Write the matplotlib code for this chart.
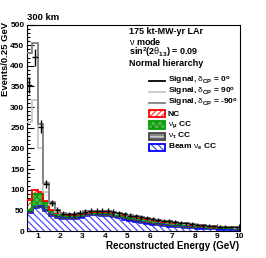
import numpy as np
import matplotlib
matplotlib.use("Agg")
import matplotlib.pyplot as plt
from matplotlib.lines import Line2D
from matplotlib.patches import Rectangle
from matplotlib.ticker import MultipleLocator

plt.rcParams['font.family'] = ['Liberation Sans', 'DejaVu Sans']
plt.rcParams['mathtext.fontset'] = 'custom'
plt.rcParams['mathtext.rm'] = 'Liberation Sans:bold'
plt.rcParams['mathtext.it'] = 'Liberation Sans:bold'
plt.rcParams['mathtext.bf'] = 'Liberation Sans:bold'
plt.rcParams['mathtext.sf'] = 'Liberation Sans:weight=normal'
plt.rcParams['hatch.linewidth'] = 0.8

# ---------------- data (events per 0.25 GeV bin, 0.5 - 10 GeV) ----------------
bin_low = 0.5
bin_width = 0.25
n_bins = 38

beam_nue_cc = [45, 57, 61, 51, 39, 34, 32, 31, 32, 35,
               38, 40, 40, 39, 38, 36, 33, 30, 27, 25,
               22, 20, 18, 16, 14, 13, 12, 11, 10, 9,
               8, 8, 7, 7, 6, 6, 6, 5]
nutau_cc = [0, 0, 0, 0, 0, 0, 0.1, 0.2, 0.3, 0.4,
            0.5, 0.6, 0.7, 0.8, 0.8, 0.9, 0.9, 0.9, 0.9, 0.9,
            0.9, 0.9, 0.8, 0.8, 0.8, 0.7, 0.7, 0.7, 0.6, 0.6,
            0.6, 0.5, 0.5, 0.5, 0.5, 0.4, 0.4, 0.4]
numu_cc = [5, 32, 28, 18, 9, 7, 6, 5, 5, 4,
           4, 4, 4, 4, 5, 5, 5, 6, 6, 6,
           7, 7, 7, 7, 7, 7, 6, 6, 5, 5,
           4, 3.5, 3, 2.5, 2, 2, 1.5, 1.5]
nc = [25, 10, 6, 2.5, 2, 2, 2, 2, 2, 2,
      2, 2, 2, 2, 2, 2, 1.5, 1.5, 1.5, 1.5,
      1.5, 1.5, 1, 1, 1, 1, 1, 1, 1, 1,
      1, 1, 0.8, 0.8, 0.8, 0.8, 0.8, 0.8]

signal_dcp0 = [279, 322, 158, 42.5, 18, 7,
               2, 2.3, 2.2, 2.6, 2.5, 2.4, 2.3, 2.2, 2.2, 2.1,
               2.1, 2.1, 2.1, 2.1, 2.1, 2.1, 2, 2, 1.8, 1.8,
               1.8, 1.6, 1.6, 1.5, 1.4, 1.3, 1.2, 1.2, 1.1, 1.0,
               0.9, 0.8]
signal_dcp90 = [190, 219, 106, 23.5, 12, 4,
                1.7, 2.0, 1.9, 2.3, 2.2, 2.1, 2.0, 2.0, 2.0, 1.9,
                1.9, 1.9, 1.9, 1.9, 1.9, 1.9, 1.9, 1.9, 1.7, 1.7,
                1.7, 1.5, 1.5, 1.4, 1.3, 1.2, 1.1, 1.1, 1.0, 0.9,
                0.8, 0.7]
signal_dcpm90 = [355, 357, 163, 44.5, 20, 8,
                 2.3, 2.6, 2.5, 2.9, 2.8, 2.7, 2.6, 2.5, 2.5, 2.4,
                 2.3, 2.3, 2.3, 2.3, 2.2, 2.2, 2.1, 2.1, 1.9, 1.9,
                 1.9, 1.7, 1.7, 1.6, 1.5, 1.4, 1.3, 1.3, 1.2, 1.1,
                 1.0, 0.9]

x_ticks = [1, 2, 3, 4, 5, 6, 7, 8, 9, 10]
y_ticks = [0, 50, 100, 150, 200, 250, 300, 350, 400, 450, 500]

# ---------------- figure ----------------
W, H = 266, 258
fig = plt.figure(figsize=(W / 100, H / 100), dpi=100)
ax = fig.add_axes([26.5 / W, 1 - 231 / H, 213 / W, 206.5 / H])

edges = bin_low + bin_width * np.arange(n_bins + 1)
centers = 0.5 * (edges[:-1] + edges[1:])

layers = [
    (beam_nue_cc, dict(face='white', hatchc='#3a3aff', hatch='\\\\\\\\\\', line='#0000ff', lw=1.8)),
    (nutau_cc, dict(face='#c8c8c8', hatchc='#555555', hatch='-----', line='#444444', lw=1.0)),
    (numu_cc, dict(face='#40c040', hatchc='#1f8a1f', hatch='xxxxx', line='#00a000', lw=1.6)),
    (nc, dict(face='white', hatchc='#ff3030', hatch='//////', line='#ff0000', lw=1.3)),
]

bottom = np.zeros(n_bins)
for vals, st in layers:
    top = bottom + np.asarray(vals, float)
    ax.stairs(top, edges, baseline=bottom, fill=True, facecolor=st['face'],
              edgecolor=st['hatchc'], hatch=st['hatch'], linewidth=0, zorder=2)
    ax.stairs(top, edges, baseline=None, color=st['line'], linewidth=st['lw'], zorder=3)
    bottom = top
bkg_total = bottom

tot90 = bkg_total + np.asarray(signal_dcp90, float)
totm90 = bkg_total + np.asarray(signal_dcpm90, float)
tot0 = bkg_total + np.asarray(signal_dcp0, float)

ax.stairs(tot90, edges, baseline=None, color='#c8c8c8', linewidth=1.3, zorder=4)
ax.stairs(totm90, edges, baseline=None, color='#808080', linewidth=1.3, zorder=5)
ax.errorbar(centers, tot0, xerr=bin_width / 2, yerr=np.sqrt(tot0), fmt='none',
            ecolor='black', elinewidth=1.0, capsize=0, zorder=6)

ax.set_xlim(0.5, 10)
ax.set_ylim(0, 500)
ax.set_xticks(x_ticks)
ax.set_yticks(y_ticks)
ax.xaxis.set_minor_locator(MultipleLocator(0.2))
ax.yaxis.set_minor_locator(MultipleLocator(10))
ax.tick_params(which='both', direction='in', top=False, right=False,
               labelsize=6.0, width=0.8, pad=1.5)
ax.tick_params(which='major', length=5)
ax.tick_params(which='minor', length=2.5)
for lab in ax.get_xticklabels() + ax.get_yticklabels():
    lab.set_fontweight('bold')
for s in ax.spines.values():
    s.set_linewidth(0.8)

ax.set_xlabel('Reconstructed Energy (GeV)', fontsize=7, fontweight='bold', loc='right', labelpad=1)
ax.set_ylabel('Events/0.25 GeV', fontsize=6.8, fontweight='bold', loc='top')
ax.yaxis.set_label_coords((10.5 - 26.5) / 213, (231 - 22) / 206.5)

def fx(x):
    return x / W

def fy(y):
    return 1 - y / H

fig.text(fx(27), fy(17), '300 km', fontsize=6.8, fontweight='bold', va='center', ha='left')

info = ['175 kt-MW-yr LAr', '$\\mathsf{\\nu}$ mode',
        'sin$^{2}$(2$\\mathsf{\\theta}_{13}$) = 0.09', 'Normal hierarchy']
info_y = [32, 41.5, 52.5, 63]
for t, yy in zip(info, info_y):
    fig.text(fx(129), fy(yy), t, fontsize=6.5, fontweight='bold', va='center', ha='left')

leg_y = [81, 92, 103, 114, 125, 136, 147]
hx0, hx1, tx = 149, 165, 168
line_entries = [('#000000', 'Signal, $\\mathsf{\\delta}_{CP}$ = 0$^{o}$'),
                ('#c8c8c8', 'Signal, $\\mathsf{\\delta}_{CP}$ = 90$^{o}$'),
                ('#808080', 'Signal, $\\mathsf{\\delta}_{CP}$ = -90$^{o}$')]
for (c, lab), yy in zip(line_entries, leg_y[:3]):
    fig.add_artist(Line2D([fx(hx0), fx(hx1)], [fy(yy), fy(yy)], color=c, lw=1.3))
    fig.text(fx(tx), fy(yy), lab, fontsize=6.0, fontweight='bold', va='center', ha='left')

box_entries = [(layers[3][1], 'NC'),
               (layers[2][1], '$\\mathsf{\\nu}_{\\mu}$ CC'),
               (layers[1][1], '$\\mathsf{\\nu}_{\\tau}$ CC'),
               (layers[0][1], 'Beam $\\mathsf{\\nu}_{e}$ CC')]
for (st, lab), yy in zip(box_entries, leg_y[3:]):
    fig.add_artist(Rectangle((fx(hx0), fy(yy + 3.5)), fx(hx1 - hx0), 7 / H,
                             facecolor=st['face'], edgecolor=st['hatchc'], hatch=st['hatch'], lw=0))
    fig.add_artist(Rectangle((fx(hx0), fy(yy + 3.5)), fx(hx1 - hx0), 7 / H,
                             facecolor='none', edgecolor=st['line'], lw=1.3))
    fig.text(fx(tx), fy(yy), lab, fontsize=6.0, fontweight='bold', va='center', ha='left')

fig.savefig('out.png', dpi=100)
